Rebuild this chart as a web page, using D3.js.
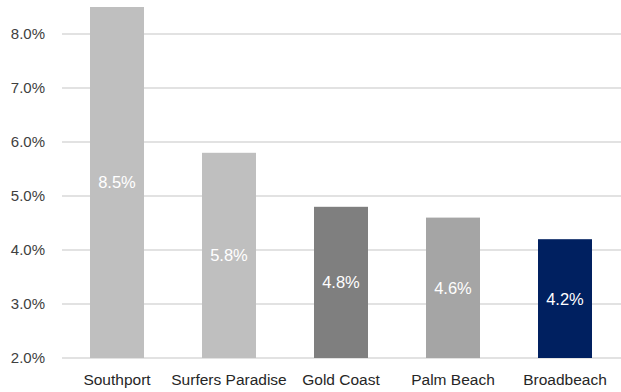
<!DOCTYPE html>
<html>
<head>
<meta charset="utf-8">
<script src="https://cdn.jsdelivr.net/npm/d3@7"></script>
<style>
  body { margin: 0; background: #fff; }
  text { font-family: "Liberation Sans", Arial, Helvetica, sans-serif; }
</style>
</head>
<body>
<svg id="chart" width="621" height="392"></svg>
<script>
// Vacancy rates by area
const categories = ["Southport", "Surfers Paradise", "Gold Coast", "Palm Beach", "Broadbeach"];
const values = [8.5, 5.8, 4.8, 4.6, 4.2];
const barColors = ["#bfbfbf", "#bfbfbf", "#7f7f7f", "#a5a5a5", "#002060"];
const yTicks = [2, 3, 4, 5, 6, 7, 8];

const svg = d3.select("#chart");

const x = d3.scaleBand()
  .domain(categories)
  .range([61, 621])
  .paddingInner(0.518)
  .paddingOuter(0.259);

const y = d3.scaleLinear()
  .domain([2, 8.5])
  .range([358, 7]);

// gridlines
svg.append("g")
  .selectAll("line")
  .data(yTicks)
  .join("line")
  .attr("x1", 62)
  .attr("x2", 621)
  .attr("y1", d => y(d))
  .attr("y2", d => y(d))
  .attr("stroke", "#d9d9d9")
  .attr("stroke-width", 1.3);

// y axis labels
const yAxis = d3.axisLeft(y)
  .tickValues(yTicks)
  .tickFormat(d => d.toFixed(1) + "%")
  .tickSize(0)
  .tickPadding(0);

svg.append("g")
  .attr("transform", "translate(45,0)")
  .call(yAxis)
  .call(g => g.select(".domain").remove())
  .call(g => g.selectAll("text")
    .attr("font-size", 15)
    .attr("fill", "#404040")
    .attr("font-family", "'Liberation Sans', Arial, sans-serif"));

// bars
svg.append("g")
  .selectAll("rect")
  .data(categories)
  .join("rect")
  .attr("x", d => x(d))
  .attr("width", x.bandwidth())
  .attr("y", (d, i) => y(values[i]))
  .attr("height", (d, i) => y(2) - y(values[i]))
  .attr("fill", (d, i) => barColors[i]);

// value labels, centred in each bar
svg.append("g")
  .selectAll("text")
  .data(categories)
  .join("text")
  .attr("x", d => x(d) + x.bandwidth() / 2)
  .attr("y", (d, i) => (y(values[i]) + y(2)) / 2)
  .attr("dy", "0.36em")
  .attr("text-anchor", "middle")
  .attr("font-size", 16.5)
  .attr("fill", "#ffffff")
  .text((d, i) => values[i].toFixed(1) + "%");

// x axis labels
const xAxis = d3.axisBottom(x).tickSize(0).tickPadding(0);
svg.append("g")
  .attr("transform", "translate(0,374)")
  .call(xAxis)
  .call(g => g.select(".domain").remove())
  .call(g => g.selectAll("text")
    .attr("font-size", 15.5)
    .attr("fill", "#262626")
    .attr("font-family", "'Liberation Sans', Arial, sans-serif"));
</script>
</body>
</html>
